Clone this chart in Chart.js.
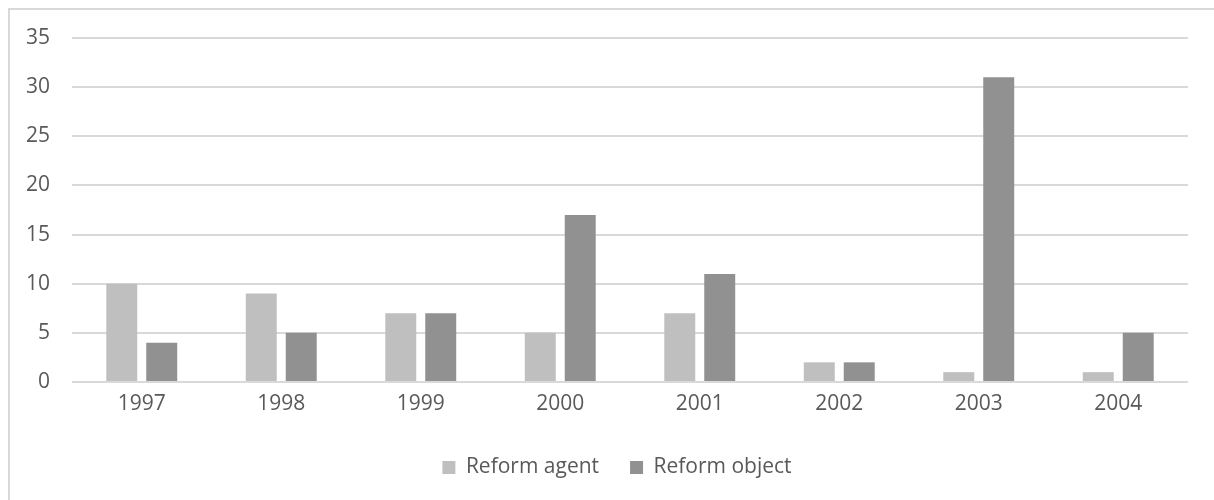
<!DOCTYPE html>
<html lang="en">
<head>
  <meta charset="UTF-8">
  <title>Reform agent vs object</title>
  <script src="https://cdn.jsdelivr.net/npm/chart.js"></script>
  <style>
    html, body { margin: 0; padding: 0; background: #fff; }
    #frame {
      position: absolute; left: 0; top: 0; width: 1214px; height: 500px;
    }
    #box {
      position: absolute; left: 8px; top: 8px; width: 1300px; height: 600px;
      border-top: 2px solid #d9d9d9; border-left: 2px solid #d9d9d9;
    }
  </style>
</head>
<body>
  <div id="box"></div>
  <div id="frame">
    <canvas id="reformChart" width="1214" height="500"></canvas>
  </div>

  <script>
    const years = ['1997', '1998', '1999', '2000', '2001', '2002', '2003', '2004'];
    const reformAgent = [10, 9, 7, 5, 7, 2, 1, 1];
    const reformObject = [4, 5, 7, 17, 11, 2, 31, 5];
    const yTicks = [0, 5, 10, 15, 20, 25, 30, 35];

    const textColor = '#595959';
    const fontFamily = '"Open Sans", Lato, sans-serif';

    // nudge the legend a little right of the canvas centre
    const legendShift = {
      id: 'legendShift',
      afterLayout(chart) {
        if (chart.legend) {
          chart.legend.left += 23;
          chart.legend.right += 23;
        }
      }
    };

    const ctx = document.getElementById('reformChart').getContext('2d');

    new Chart(ctx, {
      type: 'bar',
      data: {
        labels: years,
        datasets: [
          {
            label: 'Reform agent',
            data: reformAgent,
            backgroundColor: '#bfbfbf',
            categoryPercentage: 0.573,
            barPercentage: 0.775
          },
          {
            label: 'Reform object',
            data: reformObject,
            backgroundColor: '#919191',
            categoryPercentage: 0.573,
            barPercentage: 0.775
          }
        ]
      },
      options: {
        responsive: false,
        animation: false,
        layout: { padding: { left: 0, right: 26, top: 38, bottom: 12 } },
        scales: {
          x: {
            grid: { display: false, drawTicks: false },
            border: { display: false },
            ticks: { color: textColor, font: { family: fontFamily, size: 21 }, padding: 9 },
            afterFit: scale => { scale.height = 44; }
          },
          y: {
            min: 0,
            max: 35,
            afterBuildTicks: scale => { scale.ticks = yTicks.map(v => ({ value: v })); },
            grid: { color: '#d9d9d9', lineWidth: 2, drawTicks: false },
            border: { display: false },
            ticks: { color: textColor, font: { family: fontFamily, size: 21 }, padding: 22 },
            afterFit: scale => { scale.width = 72; }
          }
        },
        plugins: {
          legend: {
            position: 'bottom',
            labels: {
              color: textColor,
              font: { family: fontFamily, size: 21 },
              boxWidth: 13,
              boxHeight: 13,
              padding: 31
            }
          },
          tooltip: { enabled: false }
        }
      },
      plugins: [legendShift]
    });
  </script>
</body>
</html>
